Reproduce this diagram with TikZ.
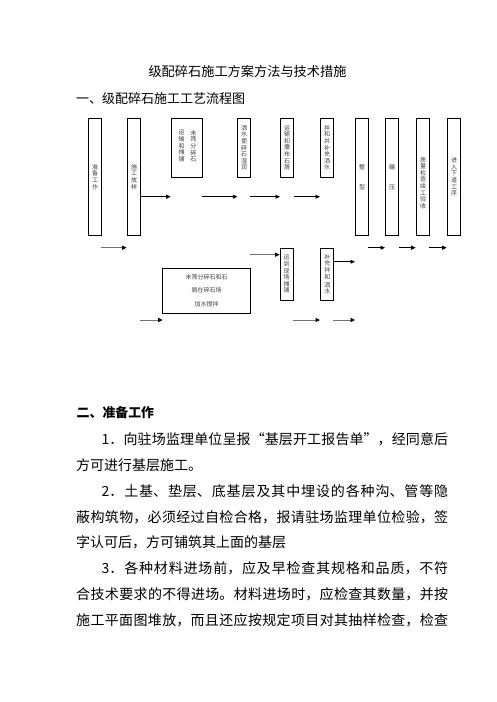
\documentclass[tikz,border=0pt]{standalone}
\usepackage{fontspec}
\setmainfont{Noto Sans CJK SC}
\usetikzlibrary{arrows.meta}
\XeTeXlinebreaklocale "zh"
\XeTeXlinebreakskip=0pt plus 1pt
\newcommand\myjline[1]{\parbox[t]{372pt}{\XeTeXlinebreakskip=0pt plus 6pt minus 1pt\parfillskip=0pt\tolerance=10000\hbadness=10000\noindent #1}}
\tikzset{
  vtxt/.style={font=\fontsize{6}{6.6}\selectfont, text=black!75, align=center, inner sep=0pt},
  box/.style={draw, line width=1pt, inner sep=0pt, minimum width=13pt, vtxt},
  arr/.style={line width=0.9pt, -{Triangle[length=4.5pt,width=4pt]}},
  garr/.style={line width=1pt, draw=black!55, -{Triangle[length=4.5pt,width=4pt,color=black]}},
  bodyline/.style={anchor=base west, inner sep=0pt, font=\fontsize{14}{16}\selectfont},
}
\begin{document}
\begin{tikzpicture}[x=1pt,y=-1pt]
\useasboundingbox (0,0) rectangle (496,702);
% titles
\node[anchor=base, inner sep=0pt, font=\fontsize{13.2}{14}\selectfont] (title) at (247.5,76.7) {级配碎石施工方案方法与技术措施};
\node[anchor=base west, inner sep=0pt, font=\fontsize{13}{14}\selectfont] (h1) at (76,103.2) {一、级配碎石施工工艺流程图};
% boxes
\node[box, minimum height=117.4pt] (b1) at (95,177) {准\\备\\工\\作};
\node[box, minimum height=117.4pt] (b2) at (134.2,177) {施\\工\\放\\样};
\node[box, minimum width=31pt, minimum height=59pt] (b3) at (187.2,147.8) {};
\node[vtxt, anchor=north] (t3a) at (193.3,130) {未\\筛\\分\\碎\\石};
\node[vtxt, anchor=north] (t3b) at (181.7,130) {运\\输\\和\\摊\\铺};
\node[box, minimum height=59pt] (b4) at (244,147.8) {洒\\水\\使\\碎\\石\\湿\\润};
\node[box, minimum height=59pt] (b5) at (287,147.8) {运\\输\\和\\撒\\布\\石\\屑};
\node[box, minimum height=59pt] (b6) at (327,147.8) {拌\\和\\并\\补\\充\\洒\\水};
\node[box, minimum height=117.4pt] (b7) at (362,177) {整\\[13.4pt]型};
\node[box, minimum height=117.4pt] (b8) at (392,177) {碾\\[13.4pt]压};
\node[box, minimum height=117.4pt] (b9) at (423,177) {};
\node[vtxt] (t9) at (423,183) {质\\量\\检\\查\\竣\\工\\验\\收};
\node[box, minimum height=117.4pt] (b10) at (454,177) {进\\入\\下\\道\\工\\序};
\node[box, minimum width=88.4pt, minimum height=44.7pt, font=\fontsize{6}{13.2}\selectfont] (b11) at (206.5,290.7) {未筛分碎石和石\\屑在碎石场\\加水搅拌};
\node[box, minimum height=52pt] (b12) at (286.7,274.3) {运\\到\\现\\场\\摊\\铺};
\node[box, minimum height=52pt] (b13) at (327.3,274.3) {补\\充\\拌\\和\\[1.5pt]洒\\水};
% arrow end points
\coordinate (r1) at (0,196.7);
\coordinate (p1) at (170.7,196.7);
\coordinate (p2s) at (201.7,196.7); \coordinate (p2e) at (237.3,196.7);
\coordinate (p3s) at (250,196.7); \coordinate (p3e) at (280,196.7);
\coordinate (p4s) at (294,196.7); \coordinate (p4e) at (320,196.7);
\coordinate (q1s) at (101,247.7); \coordinate (q1e) at (126.7,247.7);
\coordinate (q2s) at (368.3,247.7); \coordinate (q2e) at (385,247.7);
\coordinate (q3s) at (399,247.7); \coordinate (q3e) at (415.7,247.7);
\coordinate (q4s) at (429.3,247.7); \coordinate (q4e) at (446.7,247.7);
\coordinate (g1s) at (250,254.7); \coordinate (g1y) at (0,254.7);
\coordinate (g2y) at (0,261.7); \coordinate (g2e) at (355,261.7);
\coordinate (s1s) at (140,320); \coordinate (s1e) at (162.7,320);
\coordinate (s2s) at (293.3,320); \coordinate (s2e) at (320,320);
\coordinate (s3s) at (332.7,320); \coordinate (s3e) at (355,320);
% arrows
\draw[arr] (b2.east |- r1) -- (p1);
\draw[arr] (p2s) -- (p2e);
\draw[arr] (p3s) -- (p3e);
\draw[arr] (p4s) -- (p4e);
\draw[garr] (q1s) -- (q1e);
\draw[arr] (q2s) -- (q2e);
\draw[arr] (q3s) -- (q3e);
\draw[arr] (q4s) -- (q4e);
\draw[garr] (g1s) -- (b12.west |- g1y);
\draw[arr] (b13.east |- g2y) -- (g2e);
\draw[garr] (s1s) -- (s1e);
\draw[garr] (s2s) -- (s2e);
\draw[garr] (s3s) -- (s3e);
% section two
\node[anchor=base west, inner sep=0pt, font=\bfseries\fontsize{12.9}{14}\selectfont] (h2) at (76.5,417.6) {二、准备工作};
\node[bodyline] (l0) at (76,444.3) {\myjline{\hspace*{25.5pt}1．向驻场监理单位呈报“基层开工报告单”，经同意后}};
\node[bodyline] (l1) at (76,470.2) {方可进行基层施工。};
\node[bodyline] (l2) at (76,496.1) {\myjline{\hspace*{25.5pt}2．土基、垫层、底基层及其中埋设的各种沟、管等隐}};
\node[bodyline] (l3) at (76,522.0) {\myjline{蔽构筑物，必须经过自检合格，报请驻场监理单位检验，签}};
\node[bodyline] (l4) at (76,547.9) {字认可后，方可铺筑其上面的基层};
\node[bodyline] (l5) at (76,573.8) {\myjline{\hspace*{25.5pt}3．各种材料进场前，应及早检查其规格和品质，不符}};
\node[bodyline] (l6) at (76,599.7) {\myjline{合技术要求的不得进场。材料进场时，应检查其数量，并按}};
\node[bodyline] (l7) at (76,625.6) {\myjline{施工平面图堆放，而且还应按规定项目对其抽样检查，检查}};
\end{tikzpicture}
\end{document}
